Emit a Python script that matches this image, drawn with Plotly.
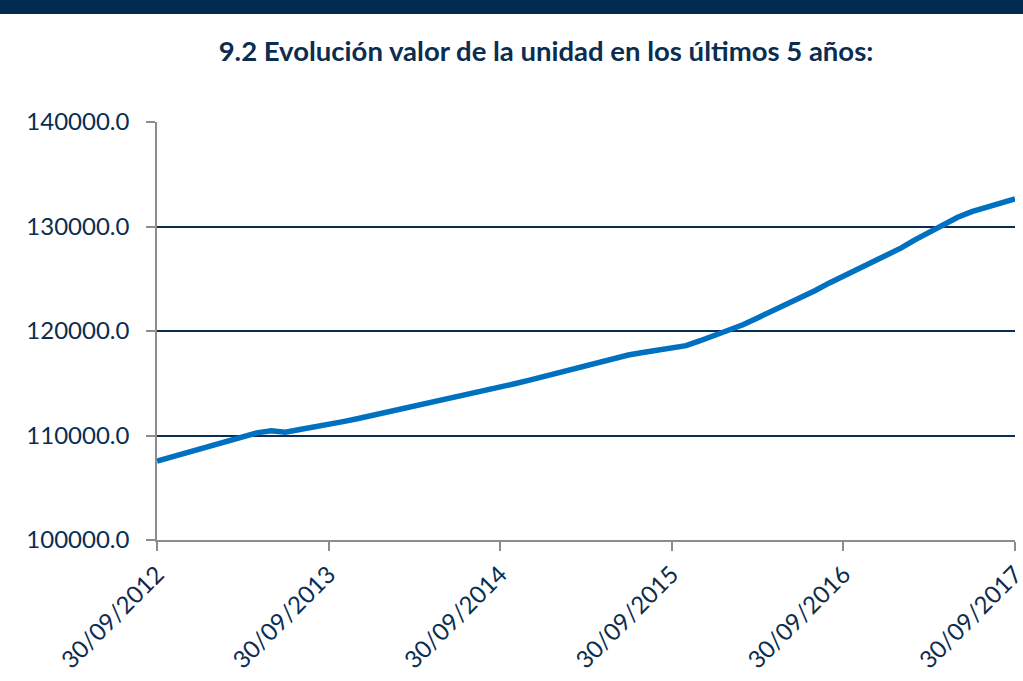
import plotly.graph_objects as go

# monthly unit values (end of month)
dates = [
    "2012-09-30", "2012-10-31", "2012-11-30", "2012-12-31", "2013-01-31", "2013-02-28",
    "2013-03-31", "2013-04-30", "2013-05-31", "2013-06-30", "2013-07-31", "2013-08-31",
    "2013-09-30", "2013-10-31", "2013-11-30", "2013-12-31", "2014-01-31", "2014-02-28",
    "2014-03-31", "2014-04-30", "2014-05-31", "2014-06-30", "2014-07-31", "2014-08-31",
    "2014-09-30", "2014-10-31", "2014-11-30", "2014-12-31", "2015-01-31", "2015-02-28",
    "2015-03-31", "2015-04-30", "2015-05-31", "2015-06-30", "2015-07-31", "2015-08-31",
    "2015-09-30", "2015-10-31", "2015-11-30", "2015-12-31", "2016-01-31", "2016-02-29",
    "2016-03-31", "2016-04-30", "2016-05-31", "2016-06-30", "2016-07-31", "2016-08-31",
    "2016-09-30", "2016-10-31", "2016-11-30", "2016-12-31", "2017-01-31", "2017-02-28",
    "2017-03-31", "2017-04-30", "2017-05-31", "2017-06-30", "2017-07-31", "2017-08-31",
    "2017-09-30",
]
values = [
    107550, 107950, 108350, 108750, 109150, 109550,
    109950, 110250, 110450, 110320, 110580, 110800,
    111050, 111330, 111600, 111900, 112180, 112480,
    112800, 113100, 113400, 113700, 113980, 114270,
    114600, 114950, 115270, 115620, 115970, 116340,
    116700, 117050, 117400, 117700, 117950, 118200,
    118380, 118600, 119070, 119550, 120050, 120600,
    121250, 121880, 122500, 123150, 123850, 124600,
    125250, 125900, 126550, 127250, 127950, 128700,
    129450, 130200, 130880, 131420, 131800, 132150,
    132650,
]

tick_dates = ["2012-09-30", "2013-09-30", "2014-09-30", "2015-09-30", "2016-09-30", "2017-09-30"]
tick_text = ["30/09/2012", "30/09/2013", "30/09/2014", "30/09/2015", "30/09/2016", "30/09/2017"]

NAVY = "#0b2d50"
GREY = "#8c8c8c"

fig = go.Figure()
fig.add_trace(go.Scatter(x=dates, y=values, mode="lines",
                         line=dict(color="#0070c0", width=5.5),
                         showlegend=False, hoverinfo="skip", cliponaxis=False))

fig.update_layout(
    width=1023, height=681,
    margin=dict(l=157, r=8, t=122, b=141),
    paper_bgcolor="white", plot_bgcolor="white",
    font=dict(family="Lato", color=NAVY),
    title=dict(text="<b>9.2 Evolución valor de la unidad en los últimos 5 años:</b>",
               x=546 / 1023, xanchor="center", y=1 - 51 / 681, yanchor="middle",
               font=dict(family="Lato", size=27.5, color=NAVY)),
    shapes=[dict(type="rect", xref="paper", yref="paper",
                 x0=-0.2, x1=1.2, y0=(540 - 14) / 418, y1=1.35,
                 fillcolor="#002a4e", line=dict(width=0), layer="above")],
)

fig.update_xaxes(
    type="date", range=["2012-09-30", "2017-09-30 00:01"],
    tickvals=tick_dates, ticktext=tick_text, tickangle=-45,
    tickfont=dict(size=24, color=NAVY), ticklabeloverflow="allow",
    showgrid=False, zeroline=False, automargin=False,
    showline=True, linecolor=GREY, linewidth=1.5,
    ticks="outside", ticklen=9, tickcolor=GREY, tickwidth=1.5,
)
fig.update_yaxes(
    range=[100000, 140000], dtick=10000, tickformat=".1f",
    tickfont=dict(size=24, color=NAVY), ticklabelstandoff=12,
    showgrid=True, gridcolor=NAVY, gridwidth=1.5, zeroline=False, automargin=False,
    showline=True, linecolor=GREY, linewidth=1.5,
    ticks="outside", ticklen=9, tickcolor=GREY, tickwidth=1.5,
)

fig.write_html("out.html", config={"displayModeBar": False},
               post_script="document.body.style.margin='0';")
